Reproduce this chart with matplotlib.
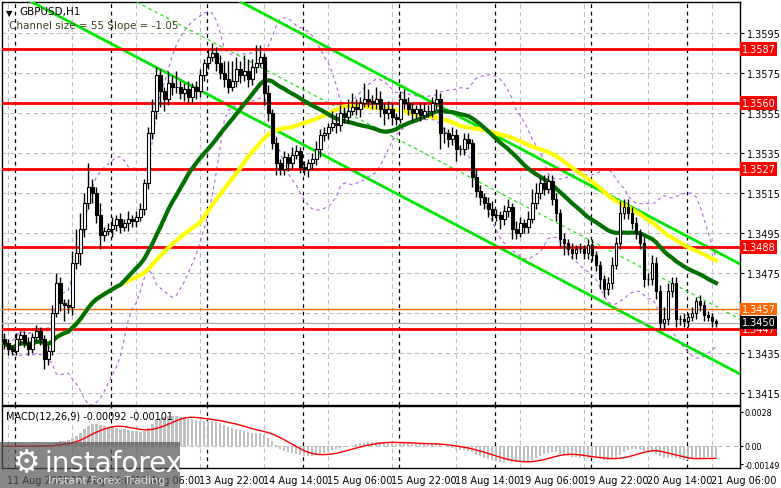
import numpy as np
import pandas as pd
import matplotlib
matplotlib.use("Agg")
import matplotlib.pyplot as plt
from matplotlib.patches import Rectangle
from matplotlib.transforms import blended_transform_factory

# hourly closes, 11 Aug 21:00 .. 21 Aug 07:00
closes = [
    1.3440, 1.3437, 1.3436, 1.3442, 1.3444, 1.3440, 1.3437, 1.3443, 1.3446, 1.3442,
    1.3432, 1.3436, 1.3455, 1.3470, 1.3460, 1.3459, 1.3458, 1.3480, 1.3485, 1.3497,
    1.3510, 1.3518, 1.3515, 1.3504, 1.3494, 1.3496, 1.3497, 1.3499, 1.3502, 1.3498,
    1.3500, 1.3502, 1.3501, 1.3503, 1.3507, 1.3520, 1.3545, 1.3556, 1.3574, 1.3566,
    1.3562, 1.3570, 1.3568, 1.3568, 1.3565, 1.3567, 1.3563, 1.3568, 1.3566, 1.3574,
    1.3580, 1.3583, 1.3585, 1.3580, 1.3575, 1.3572, 1.3568, 1.3571, 1.3577, 1.3574,
    1.3576, 1.3572, 1.3578, 1.3580, 1.3583, 1.3565, 1.3555, 1.3540, 1.3530, 1.3527,
    1.3533, 1.3530, 1.3534, 1.3536, 1.3528, 1.3527, 1.3530, 1.3532, 1.3537, 1.3544,
    1.3545, 1.3548, 1.3550, 1.3549, 1.3555, 1.3553, 1.3556, 1.3558, 1.3557, 1.3560,
    1.3562, 1.3561, 1.3560, 1.3562, 1.3557, 1.3555, 1.3557, 1.3553, 1.3552, 1.3562,
    1.3560, 1.3557, 1.3555, 1.3557, 1.3554, 1.3556, 1.3556, 1.3560, 1.3562, 1.3545,
    1.3545, 1.3542, 1.3544, 1.3537, 1.3537, 1.3542, 1.3540, 1.3523, 1.3516, 1.3513,
    1.3510, 1.3507, 1.3504, 1.3504, 1.3502, 1.3506, 1.3508, 1.3497, 1.3495, 1.3500,
    1.3498, 1.3502, 1.3510, 1.3515, 1.3520, 1.3517, 1.3521, 1.3512, 1.3505, 1.3492,
    1.3490, 1.3487, 1.3485, 1.3487, 1.3487, 1.3485, 1.3489, 1.3484, 1.3479, 1.3472,
    1.3467, 1.3470, 1.3479, 1.3490, 1.3505, 1.3508, 1.3505, 1.3500, 1.3495, 1.3490,
    1.3472, 1.3472, 1.3480, 1.3466, 1.3450, 1.3452, 1.3466, 1.3470, 1.3452, 1.3452,
    1.3451, 1.3453, 1.3455, 1.3461, 1.3459, 1.3454, 1.3453, 1.3451, 1.3450,
]
first_open = 1.3442
# wick lengths in pips above / below the body
upper_wick = [
    3, 2, 2, 3, 2, 2, 3, 2, 3, 2, 2, 3, 4, 5, 3, 2, 3, 6, 12, 8,
    5, 12, 4, 3, 6, 2, 3, 4, 2, 3, 2, 4, 2, 3, 3, 2, 3, 6, 4, 3,
    2, 6, 4, 8, 3, 3, 4, 2, 3, 3, 2, 4, 5, 3, 4, 6, 9, 10, 6, 4,
    8, 6, 4, 9, 6, 2, 4, 2, 3, 2, 3, 2, 4, 3, 2, 3, 2, 3, 4, 3,
    3, 2, 6, 5, 4, 3, 6, 7, 4, 3, 8, 5, 3, 6, 4, 3, 4, 3, 2, 4,
    5, 3, 3, 2, 3, 4, 3, 3, 5, 3, 3, 2, 4, 3, 2, 3, 3, 2, 4, 3,
    2, 3, 4, 3, 2, 3, 4, 2, 4, 3, 2, 4, 7, 5, 3, 4, 3, 3, 3, 2,
    3, 2, 3, 2, 3, 2, 3, 3, 2, 2, 2, 3, 4, 3, 6, 4, 4, 3, 3, 2,
    3, 3, 4, 3, 3, 6, 4, 3, 3, 2, 3, 2, 3, 2, 3, 2, 2, 2, 1,
]
lower_wick = [
    3, 3, 2, 2, 3, 2, 3, 2, 2, 3, 5, 3, 2, 2, 4, 8, 3, 4, 3, 6,
    4, 3, 5, 4, 7, 3, 2, 4, 3, 3, 2, 4, 3, 3, 2, 3, 3, 3, 4, 8,
    6, 3, 4, 3, 3, 4, 3, 3, 4, 3, 3, 3, 2, 4, 3, 4, 3, 2, 3, 4,
    3, 4, 3, 3, 2, 6, 4, 3, 6, 3, 3, 4, 3, 2, 3, 3, 4, 3, 3, 4,
    3, 3, 2, 4, 3, 3, 3, 2, 3, 4, 2, 3, 3, 3, 4, 6, 3, 4, 3, 2,
    3, 3, 4, 3, 3, 2, 3, 3, 3, 8, 5, 4, 3, 6, 3, 3, 3, 5, 3, 4,
    3, 4, 3, 3, 5, 3, 3, 5, 3, 2, 3, 3, 2, 3, 3, 3, 2, 3, 4, 4,
    6, 3, 3, 3, 2, 3, 3, 3, 3, 5, 4, 3, 3, 2, 3, 3, 3, 3, 3, 3,
    4, 3, 3, 4, 3, 3, 3, 3, 4, 3, 3, 3, 2, 3, 3, 3, 2, 3, 2,
]

levels = [1.3587, 1.3560, 1.3527, 1.3488, 1.3447]
level_labels = ["1.3587", "1.3560", "1.3527", "1.3488", "1.3447"]
pending_level = 1.3457
price_ticks = [1.3595, 1.3575, 1.3555, 1.3535, 1.3515, 1.3495, 1.3475, 1.3435, 1.3415]
channel_upper_end = 1.34795   # upper channel line at the right edge
channel_size = 0.0055
channel_slope = -0.000105

label_bars = [1, 17, 33, 49, 65, 81, 97, 113, 129, 145, 161, 177]
label_texts = ["11 Aug 2025", "12 Aug 14:00", "13 Aug 06:00", "13 Aug 22:00", "14 Aug 14:00",
               "15 Aug 06:00", "15 Aug 22:00", "18 Aug 14:00", "19 Aug 06:00", "19 Aug 22:00",
               "20 Aug 14:00", "21 Aug 06:00"]
day_bars = [3, 27, 51, 75, 99, 123, 147, 171]

pip = 0.0001
c = pd.Series(closes)
o = pd.Series([first_open] + closes[:-1])
hi = np.maximum(o, c) + np.array(upper_wick) * pip
lo = np.minimum(o, c) - np.array(lower_wick) * pip
n = len(c)
x = np.arange(n)

sma_fast = c.rolling(30, min_periods=1).mean()
sma_slow = c.rolling(50, min_periods=1).mean()
bb_mid = c.rolling(20, min_periods=3).mean()
bb_std = c.rolling(20, min_periods=3).std(ddof=0)
macd = c.ewm(span=12, adjust=False).mean() - c.ewm(span=26, adjust=False).mean()
signal = macd.rolling(9, min_periods=1).mean()

W, H = 781, 489
fig = plt.figure(figsize=(W / 100, H / 100), dpi=100)
ax = fig.add_axes([2 / W, 1 - 406 / H, 738 / W, 403 / H])
ax2 = fig.add_axes([2 / W, 1 - 469 / H, 738 / W, 62 / H])
xmin, xmax = -0.6, 184
for a in (ax, ax2):
    a.set_xlim(xmin, xmax)
    a.set_xticks([])
    for s in a.spines.values():
        s.set_linewidth(1)
        s.set_color("black")
ax.set_ylim(1.3409, 1.36105)
ax2.set_ylim(-0.00181, 0.00329)

# grid
for t in price_ticks + [1.3455]:
    ax.axhline(t, color="#c0c0c0", ls=(0, (4, 3)), lw=0.8, zorder=0)
for b in label_bars:
    ax.axvline(b, color="#c0c0c0", ls=(0, (4, 3)), lw=0.8, zorder=0)
    ax2.axvline(b, color="#c0c0c0", ls=(0, (4, 3)), lw=0.8, zorder=0)
for b in day_bars:
    ax.axvline(b - 0.3, color="black", ls=(0, (3, 3)), lw=0.9, zorder=1)
    ax2.axvline(b - 0.3, color="black", ls=(0, (3, 3)), lw=0.9, zorder=1)

# bollinger bands
for band in (bb_mid + 2 * bb_std, bb_mid - 2 * bb_std):
    ax.plot(x, band, color="#b35ee6", ls=(0, (3, 3)), lw=0.8, zorder=2)

# channel
xx = np.array([xmin, xmax])
upper = channel_upper_end + (xx - xmax) * channel_slope
ax.plot(xx, upper, color="#00e600", lw=2, zorder=3)
ax.plot(xx, upper - channel_size, color="#00e600", lw=2, zorder=3)
ax.plot(xx, upper - channel_size / 2, color="#00e600", lw=0.8, ls=(0, (3, 3)), zorder=3)

# levels
for lv in levels:
    ax.axhline(lv, color="#ff0000", lw=2, zorder=4)
ax.axhline(pending_level, color="#ff6600", lw=1, zorder=4)
ax.axhline(closes[-1], color="#b0b0b0", lw=1, zorder=4)

# moving averages
ax.plot(x, sma_slow, color="#ffff00", lw=3, zorder=5)
ax.plot(x, sma_fast, color="#007000", lw=3, zorder=6)

# candles
for i in range(n):
    ax.vlines(i, lo[i], hi[i], color="black", lw=1, zorder=7)
    bottom = min(o[i], c[i])
    h = max(abs(c[i] - o[i]), 0.00002)
    face = "white" if c[i] >= o[i] else "black"
    ax.add_patch(Rectangle((i - 0.35, bottom), 0.7, h, facecolor=face,
                           edgecolor="black", lw=0.8, zorder=8))

# price axis
ax.yaxis.tick_right()
ax.set_yticks(price_ticks)
ax.set_yticklabels([f"{t:.4f}" for t in price_ticks], fontsize=7)
ax.tick_params(axis="y", length=3, pad=2)
for lv, txt in zip(levels, level_labels):
    ax.text(1.002, lv, txt, transform=ax.get_yaxis_transform(), fontsize=7, color="white",
            va="center", ha="left", bbox=dict(boxstyle="square,pad=0.2", fc="#ff0000", ec="none"))
ax.text(1.002, pending_level, "1.3457", transform=ax.get_yaxis_transform(), fontsize=7, color="white",
        va="center", ha="left", bbox=dict(boxstyle="square,pad=0.15", fc="#ff6600", ec="none"))
ax.text(1.002, closes[-1] + 0.00004, f"{closes[-1]:.4f}", transform=ax.get_yaxis_transform(), fontsize=7,
        color="white", va="center", ha="left", bbox=dict(boxstyle="square,pad=0.15", fc="black", ec="none"))

ax.text(0.006, 0.985, "\u25bc", transform=ax.transAxes, fontsize=6, va="top")
ax.text(0.024, 0.99, "GBPUSD,H1", transform=ax.transAxes, fontsize=7.5, va="top")
ax.text(0.01, 0.955, "Channel size = 55 Slope = -1.05", transform=ax.transAxes, fontsize=7.5,
        va="top", color="#404020")

# MACD
ax2.bar(x, macd, width=0.6, color="#c0c0c0", zorder=2)
ax2.plot(x, signal, color="#ff0000", lw=1, zorder=3)
ax2.axhline(0, color="#c0c0c0", ls=(0, (4, 3)), lw=0.8, zorder=0)
ax2.yaxis.tick_right()
ax2.set_yticks([0.0028, 0.0, -0.00149])
ax2.set_yticklabels(["0.0028", "0.00", "-0.00149"], fontsize=5.8)
ax2.tick_params(axis="y", length=2, pad=1)
ax2.text(0.006, 0.93, f"MACD(12,26,9) {macd.iloc[-1]:.5f} {signal.iloc[-1]:.5f}",
         transform=ax2.transAxes, fontsize=7, va="top")

# time labels
trans = blended_transform_factory(ax2.transData, ax2.transAxes)
for b, t in zip(label_bars, label_texts):
    ax2.text(b - 0.3, -0.12, t, transform=trans, fontsize=7, ha="left", va="top")

# watermark
fig.patches.append(Rectangle((0, 0), 180 / W, 46 / H, transform=fig.transFigure,
                             facecolor="#555555", alpha=0.7, zorder=20))
fig.text(44 / W, 1 - 464 / H, "instaforex", fontsize=20, color="white", va="center", zorder=21)
fig.text(48 / W, 1 - 481 / H, "Instant Forex Trading", fontsize=8, color="#dddddd", va="center", zorder=21)
fig.text(12 / W, 1 - 464 / H, "\u2699", fontsize=22, color="white", va="center", zorder=21)

fig.savefig("out.png", dpi=100)
